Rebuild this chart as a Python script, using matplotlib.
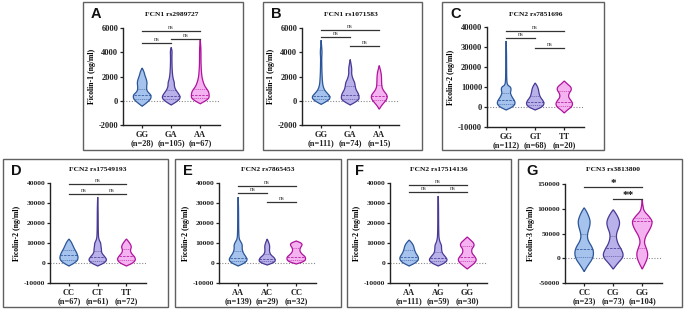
import numpy as np
import matplotlib
matplotlib.use('Agg')
import matplotlib.pyplot as plt
from matplotlib.patches import Rectangle

plt.rcParams['axes.unicode_minus'] = False
SERIF = 'Liberation Serif'
SANS = 'Liberation Sans'

# ---------------- data ----------------
panel_letters = ['A', 'B', 'C', 'D', 'E', 'F', 'G']
titles = ['FCN1 rs2989727', 'FCN1 rs1071583', 'FCN2 rs7851696', 'FCN2 rs17549193',
          'FCN2 rs7865453', 'FCN2 rs17514136', 'FCN3 rs3813800']
ylabels = ['Ficolin-1 (ng/ml)', 'Ficolin-1 (ng/ml)', 'Ficolin-2 (ng/ml)', 'Ficolin-2 (ng/ml)',
           'Ficolin-2 (ng/ml)', 'Ficolin-2 (ng/ml)', 'Ficolin-3 (ng/ml)']
genotypes = [['GG', 'GA', 'AA'], ['GG', 'GA', 'AA'], ['GG', 'GT', 'TT'], ['CC', 'CT', 'TT'],
             ['AA', 'AC', 'CC'], ['AA', 'AG', 'GG'], ['CC', 'CG', 'GG']]
counts = [[28, 105, 67], [111, 74, 15], [112, 68, 20], [67, 61, 72],
          [139, 29, 32], [111, 59, 30], [23, 73, 104]]
yticks_f1 = [-2000, 0, 2000, 4000, 6000]
yticks_f2 = [-10000, 0, 10000, 20000, 30000, 40000]
yticks_f3 = [-50000, 0, 50000, 100000, 150000]
panel_yticks = [yticks_f1, yticks_f1, yticks_f2, yticks_f2, yticks_f2, yticks_f2, yticks_f3]

# violin outlines: (levels, relative half-widths) per genotype
A_levels = [[-450, -200, 100, 300, 500, 700, 900, 1200, 1500, 1800, 2100, 2400, 2700],
            [-350, -100, 150, 350, 600, 900, 1200, 1500, 1800, 2200, 2700, 3200, 3700, 4100, 4400],
            [-250, 0, 200, 400, 700, 900, 1200, 1600, 2000, 2500, 3000, 3500, 4000, 4500, 5000]]
A_widths = [[0, 0.45, 0.9, 1.0, 0.95, 0.65, 0.5, 0.5, 0.55, 0.45, 0.3, 0.2, 0],
            [0, 0.55, 0.95, 1.0, 0.8, 0.5, 0.35, 0.35, 0.22, 0.14, 0.1, 0.08, 0.08, 0.1, 0],
            [0, 0.6, 0.95, 1.0, 0.95, 0.8, 0.5, 0.3, 0.18, 0.12, 0.09, 0.08, 0.08, 0.06, 0]]
B_levels = [[-300, -50, 150, 350, 600, 900, 1300, 1800, 2500, 3000, 3500, 4000, 4500, 5000],
            [-350, -100, 100, 300, 600, 900, 1200, 1500, 1800, 2200, 2600, 3000, 3400],
            [-700, -400, -100, 200, 500, 800, 1100, 1500, 2000, 2400, 2900]]
B_widths = [[0, 0.6, 0.95, 1.0, 0.7, 0.35, 0.18, 0.12, 0.08, 0.07, 0.06, 0.1, 0.05, 0],
            [0, 0.6, 0.95, 1.0, 0.9, 0.65, 0.55, 0.5, 0.3, 0.15, 0.18, 0.1, 0],
            [0, 0.25, 0.6, 0.9, 0.85, 0.5, 0.3, 0.26, 0.25, 0.18, 0]]
C_levels = [[-1500, 0, 1500, 3000, 5000, 7000, 8500, 10000, 11000, 14000, 20000, 27000, 33000],
            [-1500, 0, 1500, 3000, 5000, 7000, 9000, 10500, 12000],
            [-3000, -1500, 0, 1500, 3000, 5000, 7000, 8500, 10000, 11500, 13000]]
C_widths = [[0, 0.7, 1.0, 0.95, 0.65, 0.45, 0.55, 0.5, 0.12, 0.06, 0.05, 0.04, 0],
            [0, 0.75, 1.0, 0.9, 0.55, 0.42, 0.35, 0.22, 0],
            [0, 0.35, 0.8, 0.95, 0.8, 0.45, 0.55, 0.8, 0.75, 0.35, 0]]
D_levels = [[-1500, 0, 1500, 3000, 5000, 7000, 9000, 10500, 12000],
            [-1500, 0, 1500, 3000, 5000, 7000, 8500, 10000, 12000, 16000, 22000, 28000, 33000],
            [-1500, 0, 1500, 3000, 5000, 6500, 8000, 9500, 11000, 12000]]
D_widths = [[0, 0.6, 0.95, 1.0, 0.85, 0.6, 0.4, 0.25, 0],
            [0, 0.7, 1.0, 0.8, 0.42, 0.4, 0.35, 0.33, 0.1, 0.06, 0.05, 0.04, 0],
            [0, 0.7, 1.0, 0.9, 0.5, 0.42, 0.55, 0.42, 0.18, 0]]
E_levels = [[-1500, 0, 1500, 3000, 5000, 7000, 9000, 10500, 12000, 16000, 22000, 28000, 33000],
            [-1000, 0, 1000, 2500, 4000, 5500, 7000, 8500, 10000, 12000],
            [-500, 500, 1500, 3000, 4500, 6000, 7500, 9000, 10000, 11000]]
E_widths = [[0, 0.7, 1.0, 0.85, 0.55, 0.42, 0.45, 0.3, 0.1, 0.06, 0.05, 0.04, 0],
            [0, 0.6, 0.9, 0.8, 0.4, 0.25, 0.25, 0.27, 0.18, 0],
            [0, 0.7, 1.0, 1.0, 0.6, 0.38, 0.42, 0.65, 0.55, 0]]
F_levels = [[-1500, 0, 1500, 3000, 5000, 7000, 8500, 10000, 11500],
            [-1500, 0, 1500, 3000, 5000, 7000, 9000, 10500, 13000, 18000, 24000, 30000, 33500],
            [-3000, -1500, 0, 1500, 3000, 5000, 7000, 8500, 10000, 11500, 13000]]
F_widths = [[0, 0.65, 1.0, 1.0, 0.7, 0.55, 0.48, 0.3, 0],
            [0, 0.7, 1.0, 0.8, 0.42, 0.36, 0.35, 0.18, 0.07, 0.05, 0.04, 0.03, 0],
            [0, 0.4, 0.8, 1.0, 0.85, 0.48, 0.48, 0.75, 0.7, 0.35, 0]]
G_levels = [[-27000, -15000, -2000, 10000, 22000, 35000, 45000, 55000, 65000, 75000, 85000, 95000, 102000],
            [-22000, -10000, 0, 8000, 18000, 30000, 42000, 52000, 62000, 72000, 82000, 92000, 98000],
            [-22000, -10000, 0, 10000, 20000, 32000, 45000, 55000, 65000, 75000, 85000, 95000, 105000, 118000]]
G_widths = [[0, 0.35, 0.8, 0.95, 0.8, 0.4, 0.3, 0.4, 0.55, 0.6, 0.45, 0.22, 0],
            [0, 0.45, 0.9, 1.0, 0.8, 0.45, 0.3, 0.35, 0.55, 0.65, 0.5, 0.22, 0],
            [0, 0.3, 0.5, 0.55, 0.4, 0.18, 0.35, 0.65, 0.9, 1.0, 0.65, 0.18, 0.07, 0]]
panel_levels = [A_levels, B_levels, C_levels, D_levels, E_levels, F_levels, G_levels]
panel_widths = [A_widths, B_widths, C_widths, D_widths, E_widths, F_widths, G_widths]

# medians and quartiles per genotype
medians = [[450, 400, 500], [400, 500, 400], [3500, 2500, 2500], [4000, 3000, 3500],
           [2500, 2000, 3000], [3000, 2500, 3000], [18000, 20000, 75000]]
q1s = [[150, 150, 200], [150, 150, 100], [1500, 1000, 500], [1500, 1000, 1500],
       [1000, 800, 1500], [1500, 1000, 1000], [3000, 5000, 20000]]
q3s = [[1000, 900, 1000], [900, 1200, 1300], [7000, 5500, 8000], [6500, 6000, 7000],
       [6000, 4500, 7500], [6500, 5500, 8500], [50000, 45000, 82000]]

# significance brackets: (from, to, level, label)
sig_A = [(0, 2, 5775, 'ns'), (0, 1, 4750, 'ns'), (1, 2, 5080, 'ns')]
sig_B = [(0, 2, 5830, 'ns'), (0, 1, 5250, 'ns'), (1, 2, 4500, 'ns')]
sig_C = [(0, 2, 38000, 'ns'), (0, 1, 34500, 'ns'), (1, 2, 29600, 'ns')]
sig_D = [(0, 2, 39500, 'ns'), (0, 1, 34500, 'ns'), (1, 2, 34500, 'ns')]
sig_E = [(0, 2, 38500, 'ns'), (0, 1, 35000, 'ns'), (1, 2, 30500, 'ns')]
sig_F = [(0, 2, 39000, 'ns'), (0, 1, 35500, 'ns'), (1, 2, 35500, 'ns')]
sig_G = [(0, 2, 144000, '*'), (1, 2, 120000, '**')]
panel_sigs = [sig_A, sig_B, sig_C, sig_D, sig_E, sig_F, sig_G]

# ---------------- style / layout ----------------
fills = ['#a6c3ee', '#b9b1ea', '#f4b2f0']
edges = ['#2b5598', '#483a94', '#b0139c']

W, H = 685, 312
fig = plt.figure(figsize=(W / 100, H / 100), dpi=100)

# boxes (left, top, right, bottom) in px
boxes = [(83, 2, 243, 150), (263, 2, 422, 150), (442, 2, 604, 150),
         (3, 159, 168, 307), (175, 159, 341, 307), (347, 159, 511, 307), (518, 159, 682, 307)]
# axes (left, top, right, bottom) in px
axes_px = [(123, 28, 220, 125), (302, 28, 399, 125), (487, 27, 584, 127),
           (50, 183, 146, 283), (219, 183, 316, 283), (390, 183, 487, 283), (565, 184, 662, 283)]
title_y = [14, 14, 14, 170, 170, 170, 170]


def smooth(ys, ws, n_iter=2):
    pts = np.column_stack([ys, ws]).astype(float)
    for _ in range(n_iter):
        new = [pts[0]]
        for a, b in zip(pts[:-1], pts[1:]):
            new.append(0.75 * a + 0.25 * b)
            new.append(0.25 * a + 0.75 * b)
        new.append(pts[-1])
        pts = np.array(new)
    return pts[:, 0], pts[:, 1]


for p in range(7):
    bl, bt, br, bb = boxes[p]
    fig.add_artist(Rectangle((bl / W, 1 - bb / H), (br - bl) / W, (bb - bt) / H,
                             transform=fig.transFigure, fill=False, ec='#606060', lw=1.0))
    fig.text((bl + 8) / W, 1 - (bt + 5) / H, panel_letters[p], ha='left', va='top',
             fontsize=10.5, fontweight='bold', family=SANS, color='#111')

    l, t, r, b = axes_px[p]
    ax = fig.add_axes([l / W, 1 - b / H, (r - l) / W, (b - t) / H])
    ax.set_facecolor('none')
    ticks = panel_yticks[p]
    ax.set_ylim(ticks[0], ticks[-1])
    ax.set_xlim(-0.66, 2.68)
    maxw = 0.31 if p < 3 else 0.32
    if p == 6:
        maxw = 0.35

    ax.axhline(0, color='#8a8a8a', ls=(0, (1, 1.5)), lw=0.8, zorder=1)

    for k in range(3):
        ys, ws = smooth(panel_levels[p][k], panel_widths[p][k])
        xs = np.concatenate([k + ws * maxw, (k - ws * maxw)[::-1]])
        yy = np.concatenate([ys, ys[::-1]])
        ax.fill(xs, yy, facecolor=fills[k], edgecolor=edges[k], lw=0.9, zorder=2)
        for val, style, lw in [(q1s[p][k], (0, (1.5, 1.2)), 0.5),
                               (medians[p][k], (0, (2.5, 1.2)), 0.7),
                               (q3s[p][k], (0, (1.5, 1.2)), 0.5)]:
            hw = np.interp(val, ys, ws) * maxw
            ax.plot([k - hw, k + hw], [val, val], color=edges[k], ls=style, lw=lw,
                    alpha=0.8, zorder=3)

    span = ticks[-1] - ticks[0]
    for i, j, yv, lab in panel_sigs[p]:
        ax.plot([i, j], [yv, yv], color='#333333', lw=0.9, clip_on=False, zorder=4)
        if lab == 'ns':
            ax.text((i + j) / 2, yv + span * 0.012, lab, ha='center', va='bottom',
                    fontsize=4.8, family=SERIF, color='#444', clip_on=False)
        else:
            ax.text((i + j) / 2, yv - span * 0.015, lab, ha='center', va='bottom',
                    fontsize=8, fontweight='bold', family=SERIF, color='#111', clip_on=False)

    ax.set_yticks(ticks)
    ax.set_yticklabels([str(v) for v in ticks])
    ax.set_xticks([0, 1, 2])
    ax.set_xticklabels([f'{g}\n(n={n})' for g, n in zip(genotypes[p], counts[p])],
                       linespacing=1.1)
    tfs = 6.0 if p < 3 else 5.4
    for lab in ax.get_yticklabels():
        lab.set_fontsize(tfs)
        lab.set_fontweight('bold')
        lab.set_family(SERIF)
    for lab in ax.get_xticklabels():
        lab.set_fontsize(6.0)
        lab.set_fontweight('bold')
        lab.set_family(SERIF)
    ax.tick_params(axis='y', length=2.5, width=0.9, pad=1, colors='#222')
    ax.tick_params(axis='x', length=2.0, width=0.9, pad=2, colors='#222')
    for s in ['top', 'right']:
        ax.spines[s].set_visible(False)
    for s in ['left', 'bottom']:
        ax.spines[s].set_linewidth(1.0)
        ax.spines[s].set_color('#222')
    ax.set_ylabel(ylabels[p], fontsize=5.6, fontweight='bold', family=SERIF, labelpad=2)

    fig.text((l + r) / 2 / W, 1 - title_y[p] / H, titles[p], ha='center', va='center',
             fontsize=5.4, fontweight='bold', family=SERIF, color='#111')

fig.savefig('out.png', dpi=100)
